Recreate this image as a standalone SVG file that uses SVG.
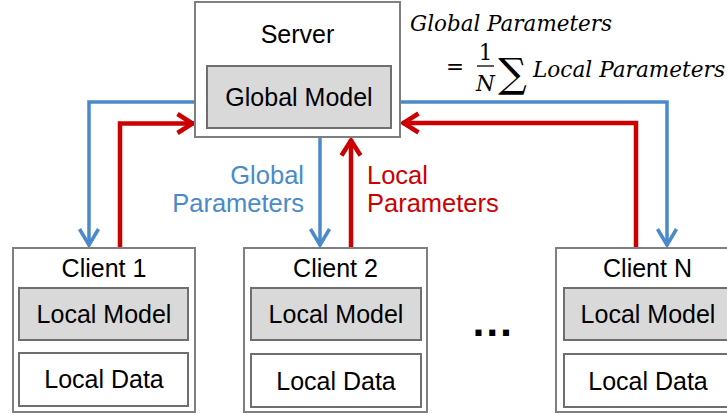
<svg xmlns="http://www.w3.org/2000/svg" width="727" height="415" viewBox="0 0 727 415">
<defs>
<style>
.box{fill:#ffffff;stroke:#7f7f7f;stroke-width:2}
.inner{fill:#d9d9d9;stroke:#6f6f6f;stroke-width:2}
.data{fill:#ffffff;stroke:#6f6f6f;stroke-width:2}
.t{font-family:"Liberation Sans",Arial,sans-serif;font-size:25px;fill:#000000;text-anchor:middle}
.blue{fill:none;stroke:#4a8acb;stroke-width:3.5}
.red{fill:none;stroke:#cc0000;stroke-width:4.5}
.bl{font-family:"Liberation Sans",Arial,sans-serif;font-size:25.5px;fill:#4a8acb;text-anchor:end}
.rl{font-family:"Liberation Sans",Arial,sans-serif;font-size:25.5px;fill:#cc0000}
.m{font-family:"DejaVu Serif","Liberation Serif",serif;font-style:italic;font-size:21.5px;fill:#000000}
.mn{font-family:"DejaVu Serif","Liberation Serif",serif;font-size:21.5px;fill:#000000}
</style>
<marker id="ab" markerUnits="userSpaceOnUse" markerWidth="30" markerHeight="30" viewBox="-20 -15 30 30" refX="1" refY="0" orient="auto">
<path d="M-16,-9.5 L0,0 L-16,9.5" fill="none" stroke="#4a8acb" stroke-width="3.5"/>
</marker>
<marker id="ar" markerUnits="userSpaceOnUse" markerWidth="30" markerHeight="30" viewBox="-20 -15 30 30" refX="1.5" refY="0" orient="auto">
<path d="M-15,-9.5 L0,0 L-15,9.5" fill="none" stroke="#cc0000" stroke-width="4.5"/>
</marker>
</defs>
<rect width="727" height="415" fill="#ffffff"/>

<g id="connectors">
<path class="blue" d="M195,102 H89 V246" marker-end="url(#ab)"/>
<path class="red" d="M120,248 V123.5 H194" marker-end="url(#ar)"/>
<path class="blue" d="M320,138 V246" marker-end="url(#ab)"/>
<path class="red" d="M351,248 V139" marker-end="url(#ar)"/>
<path class="blue" d="M401,102 H667 V246" marker-end="url(#ab)"/>
<path class="red" d="M636,248 V123 H402" marker-end="url(#ar)"/>
</g>

<g id="server">
<rect class="box" x="195" y="2" width="205" height="135"/>
<text class="t" x="297.5" y="43">Server</text>
<rect class="inner" x="207" y="66" width="184" height="62"/>
<text class="t" x="299" y="106">Global Model</text>
</g>

<g id="formula">
<text class="m" x="410" y="31" textLength="202" lengthAdjust="spacingAndGlyphs">Global Parameters</text>
<text class="mn" x="446" y="74">=</text>
<text class="mn" x="485.5" y="60" text-anchor="middle">1</text>
<line x1="477" y1="66" x2="494" y2="66" stroke="#000000" stroke-width="1.3"/>
<text class="m" x="485.5" y="91" text-anchor="middle">N</text>
<text class="mn" x="512.5" y="87" text-anchor="middle" style="font-size:40px;font-style:normal">∑</text>
<text class="m" x="533" y="77" textLength="192" lengthAdjust="spacingAndGlyphs">Local Parameters</text>
</g>

<g id="label-global">
<text class="bl" x="304" y="184">Global</text>
<text class="bl" x="304" y="212">Parameters</text>
</g>
<g id="label-local">
<text class="rl" x="367" y="184">Local</text>
<text class="rl" x="367" y="212">Parameters</text>
</g>

<g id="client1">
<rect class="box" x="13" y="248" width="182" height="164"/>
<text class="t" x="104" y="277">Client 1</text>
<rect class="inner" x="19" y="288" width="169" height="52"/>
<text class="t" x="104" y="323">Local Model</text>
<rect class="data" x="19" y="353" width="169" height="53"/>
<text class="t" x="104" y="388">Local Data</text>
</g>

<g id="client2">
<rect class="box" x="244" y="248" width="183" height="164"/>
<text class="t" x="335.5" y="277">Client 2</text>
<rect class="inner" x="251" y="288" width="170" height="52"/>
<text class="t" x="336" y="323">Local Model</text>
<rect class="data" x="251" y="354" width="170" height="53"/>
<text class="t" x="336" y="390">Local Data</text>
</g>

<g id="ellipsis">
<text x="472" y="336" style="font-family:'DejaVu Sans',sans-serif;font-weight:bold;font-size:34px;letter-spacing:0.8px;fill:#000000">...</text>
</g>

<g id="clientN">
<rect class="box" x="556" y="248" width="183" height="164"/>
<text class="t" x="647.5" y="277">Client N</text>
<rect class="inner" x="564" y="288" width="170" height="52"/>
<text class="t" x="648" y="323">Local Model</text>
<rect class="data" x="564" y="354" width="170" height="53"/>
<text class="t" x="648" y="390">Local Data</text>
</g>
</svg>
